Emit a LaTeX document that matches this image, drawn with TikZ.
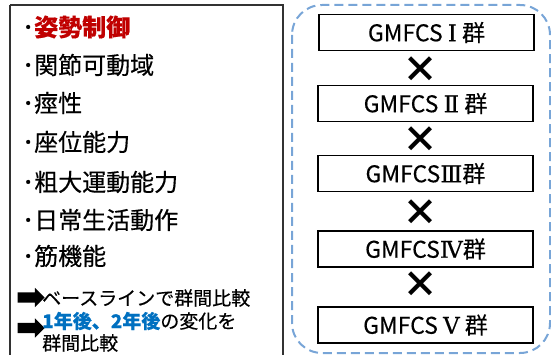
\documentclass[tikz,border=0pt]{standalone}
\usepackage{fontspec}
\setmainfont{Noto Sans CJK JP}
\newfontfamily\romfont{DejaVu Serif}
\usetikzlibrary{shapes.arrows}
\definecolor{myred}{RGB}{192,0,0}
\definecolor{myblue}{RGB}{0,112,192}
\definecolor{dashblue}{RGB}{120,165,215}
\definecolor{boxgray}{RGB}{50,50,50}
\newcommand{\fw}[1]{{\romfont\addfontfeature{FakeBold=0.3}#1}}
\begin{document}
\begin{tikzpicture}[x=1pt,y=-1pt,
  item/.style={anchor=west,inner sep=0pt,font=\fontsize{24}{24}\selectfont\addfontfeature{FakeBold=0.4}},
  note/.style={anchor=west,inner sep=0pt,font=\fontsize{19}{19}\selectfont\addfontfeature{FakeBold=0.3}},
  gbox/.style={draw=black,line width=1.1pt,minimum width=215pt,minimum height=36pt,inner sep=0pt,font=\fontsize{23}{23}\selectfont\addfontfeature{FakeBold=0.3}},
  cross/.style={inner sep=0pt,font=\fontsize{36}{36}\selectfont\bfseries},
  blockarrow/.style={single arrow,fill=black,draw=none,minimum height=27pt,inner xsep=0pt,inner ysep=5pt,single arrow head extend=4.5pt,single arrow tip angle=90}]
\useasboundingbox (0,0) rectangle (551,355);
\draw[boxgray,line width=1.5pt] (10,5) -- (283,5) -- (283,365) (10,5) -- (10,365);
\draw[dashblue,line width=2pt,dash pattern=on 9pt off 5pt,rounded corners=30pt] (292,5) rectangle (550,353);
\node[item] (t1) at (22,27) {･\textcolor{myred}{\bfseries 姿勢制御}};
\node[item] (t2) at (22,65) {･関節可動域};
\node[item] (t3) at (22,103) {･痙性};
\node[item] (t4) at (22,142) {･座位能力};
\node[item] (t5) at (22,182) {･粗大運動能力};
\node[item] (t6) at (22,220) {･日常生活動作};
\node[item] (t7) at (22,256) {･筋機能};
\node[blockarrow] (a1) at (28.5,297.5) {};
\node[blockarrow] (a2) at (28.5,328) {};
\node[note] (n1) at (42,298) {ベースラインで群間比較};
\node[note] (n2) at (42,321) {\textcolor{myblue}{\bfseries 1年後、2年後}の変化を};
\node[note] (n3) at (42,343) {群間比較};
\node[gbox] (g1) at (426.5,32.5) {GMFCS \fw{Ⅰ} 群};
\node[gbox] (g2) at (425.5,103.5) {GMFCS \fw{Ⅱ} 群};
\node[gbox] (g3) at (425.5,173.5) {GMFCS\fw{Ⅲ}群};
\node[gbox] (g4) at (425.5,249) {GMFCS\fw{Ⅳ}群};
\node[gbox] (g5) at (425.5,325) {GMFCS \fw{Ⅴ} 群};
\node[cross] (x1) at (420,70) {×};
\node[cross] (x2) at (420,140) {×};
\node[cross] (x3) at (420,213) {×};
\node[cross] (x4) at (420,285) {×};
\end{tikzpicture}
\end{document}
